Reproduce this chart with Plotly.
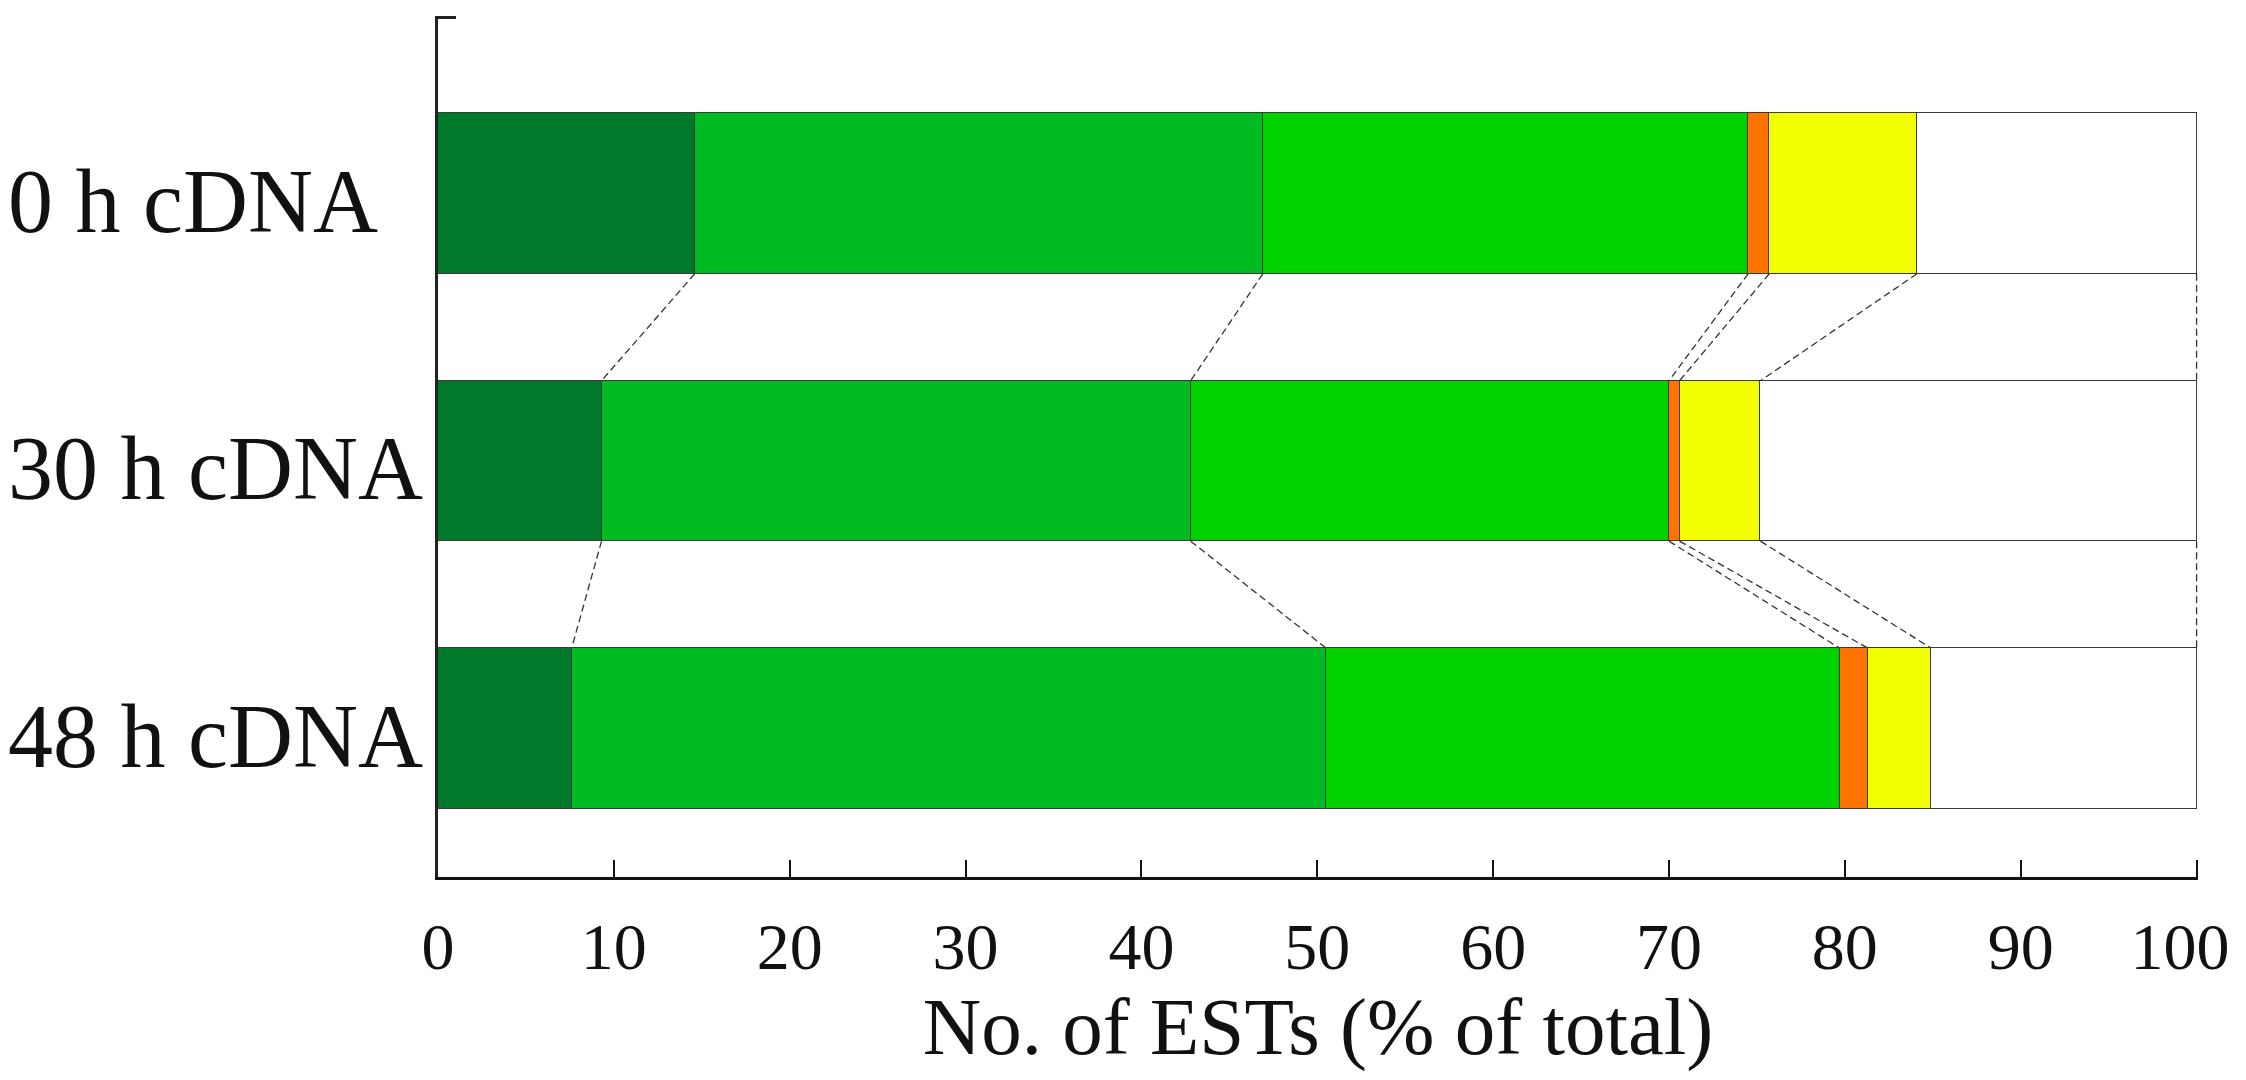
import numpy as np
import plotly.graph_objects as go

# ---- data ----
categories = ["0 h cDNA", "30 h cDNA", "48 h cDNA"]
series_names = ["Class 1", "Class 2", "Class 3", "Class 4", "Class 5", "Other"]
seg1 = [14.6, 9.3, 7.6]
seg2 = [32.3, 33.5, 42.9]
seg3 = [27.6, 27.2, 29.2]
seg4 = [1.2, 0.6, 1.6]
seg5 = [8.4, 4.6, 3.6]
seg6 = [15.9, 24.8, 15.1]
x_ticks = [0, 10, 20, 30, 40, 50, 60, 70, 80, 90, 100]
x_title = "No. of ESTs (% of total)"

colors = ["#007A2A", "#00BB22", "#00D200", "#FF7400", "#F2FF00", "#FFFFFF"]

series = [seg1, seg2, seg3, seg4, seg5, seg6]
ypos = list(range(len(categories)))
BAR_W = 0.6
SERIF = "Liberation Serif, Times New Roman, serif"

# figure is placed inside the page body (8px default margin)
FIG_W, FIG_H = 2230, 1064
M_L, M_R, M_T, M_B = 430, 40, 8, 195
PLOT_W = FIG_W - M_L - M_R

fig = go.Figure()
for name, vals, col in zip(series_names, series, colors):
    fig.add_trace(go.Bar(
        y=ypos, x=vals, name=name, orientation="h", width=BAR_W,
        marker=dict(color=col, line=dict(color="#3a3a3a", width=1.5)),
        showlegend=False,
    ))

# dashed connector lines between consecutive bars at segment boundaries
cum = np.cumsum(np.array(series), axis=0)  # shape (nseries, ncat)
for k in range(cum.shape[0]):
    for i in range(len(categories) - 1):
        fig.add_trace(go.Scatter(
            x=[cum[k, i], cum[k, i + 1]],
            y=[ypos[i] + BAR_W / 2, ypos[i + 1] - BAR_W / 2],
            mode="lines",
            line=dict(color="#333333", width=1.3, dash="7px,4px"),
            showlegend=False, hoverinfo="skip",
        ))

Y_TOP = -0.66
Y_BOT = 2.556
X_MAX = 100.08

# category labels, left-aligned at the page edge
for yi, cat in zip(ypos, categories):
    fig.add_annotation(
        x=-M_L / PLOT_W, xref="paper", y=yi, yref="y",
        text=cat, showarrow=False, xanchor="left", yanchor="middle",
        font=dict(family=SERIF, size=90, color="#111111"),
        xshift=-2, yshift=-8,
    )

fig.update_layout(
    width=FIG_W, height=FIG_H,
    margin=dict(l=M_L, r=M_R, t=M_T, b=M_B, autoexpand=False),
    paper_bgcolor="white", plot_bgcolor="white",
    barmode="stack", bargap=0,
    font=dict(family=SERIF, color="#111111"),
)

# last label nudged left (trailing no-break spaces) so it stays on the page
tick_text = [str(v) for v in x_ticks]
tick_text[-1] = tick_text[-1] + "\u00a0\u00a0"

fig.update_xaxes(
    range=[0, X_MAX], tickvals=x_ticks, ticktext=tick_text,
    ticks="inside", ticklen=17, tickwidth=2, tickcolor="#111111",
    showline=True, linecolor="#111111", linewidth=3,
    showgrid=False, zeroline=False, automargin=False,
    tickfont=dict(size=66, family=SERIF, color="#111111"),
    ticklabelstandoff=10, ticklabeloverflow="allow",
    title=dict(text=x_title, standoff=22,
               font=dict(size=81, family=SERIF, color="#111111")),
)
fig.update_yaxes(
    range=[Y_BOT, Y_TOP - 0.004], tickvals=[Y_TOP], ticktext=[""],
    ticks="inside", ticklen=18, tickwidth=3, tickcolor="#222222",
    showline=True, linecolor="#222222", linewidth=2.5,
    showgrid=False, zeroline=False, automargin=False,
)

fig.write_html("out.html")
